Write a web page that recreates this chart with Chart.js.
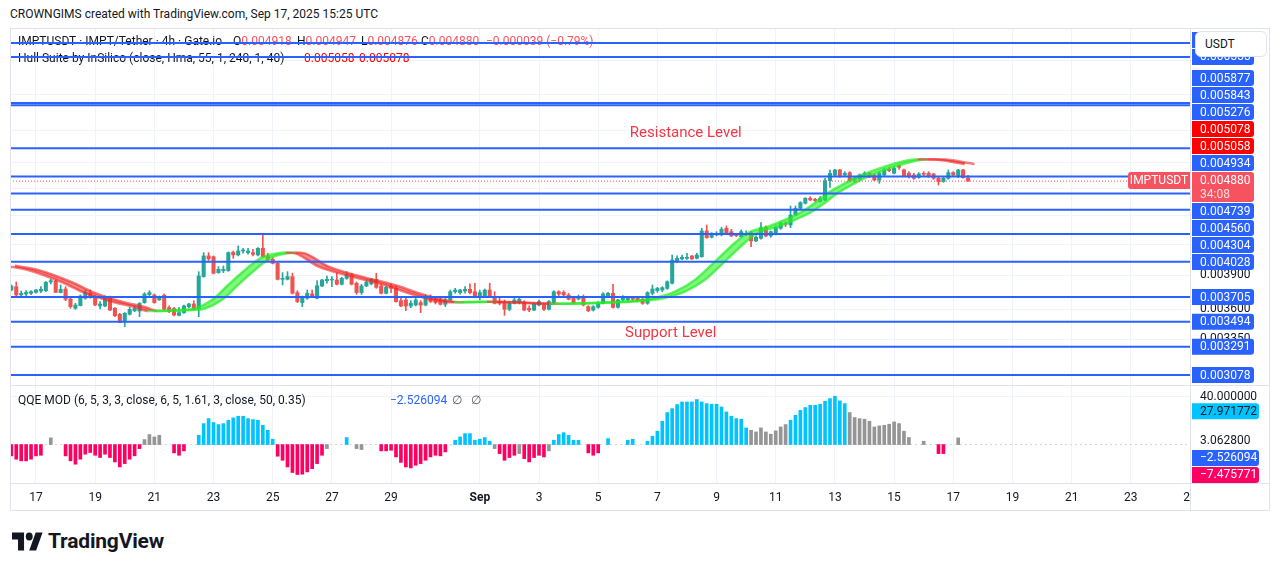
<!DOCTYPE html>
<html>
<head>
<meta charset="utf-8">
<script src="https://cdn.jsdelivr.net/npm/chart.js@4.4.1/dist/chart.umd.min.js"></script>
<style>
  body { margin: 0; width: 1281px; height: 571px; overflow: hidden; position: relative; background: #fff;
         font-family: Roboto, "Liberation Sans", Arial, sans-serif; color: #131722; }
  .abs { position: absolute; }
  canvas { position: absolute; z-index: 2; }
  .ln { position: absolute; background: #e0e3eb; z-index: 3; }
</style>
</head>
<body>
<div class="abs" style="left:10px;top:7px;font-size:12px;line-height:14px;">CROWNGIMS created with TradingView.com, Sep 17, 2025 15:25 UTC</div>

<canvas id="price" width="1260" height="357" style="left:10px;top:28px;width:1260px;height:357px"></canvas>
<canvas id="qqe" width="1260" height="126" style="left:10px;top:385px;width:1260px;height:126px"></canvas>

<div class="ln" style="left:10px;top:28px;width:1260px;height:1px"></div>
<div class="ln" style="left:10px;top:510px;width:1260px;height:1px"></div>
<div class="ln" style="left:10px;top:28px;width:1px;height:483px"></div>
<div class="ln" style="left:1269px;top:28px;width:1px;height:483px"></div>
<div class="ln" style="left:1190px;top:28px;width:1px;height:483px"></div>
<div class="ln" style="left:10px;top:385px;width:1260px;height:1px"></div>
<div class="ln" style="left:10px;top:483px;width:1260px;height:1px"></div>

<div class="abs" style="left:1195px;top:31px;width:72px;height:26px;border:1px solid #e0e3eb;border-radius:6px;background:#fff;z-index:4;font-size:12px;line-height:24px;padding-left:9px;box-sizing:border-box;">USDT</div>

<svg class="abs" style="left:12px;top:532px" width="31" height="19" viewBox="0 3.5 36 19" preserveAspectRatio="none">
  <path fill="#131722" d="M14 22H7V11H0V4h14v18zM28 22h-8l7.5-18h8L28 22z"/>
  <circle fill="#131722" cx="20" cy="8" r="4"/>
</svg>
<div class="abs" style="left:48px;top:528px;font-size:21px;font-weight:bold;line-height:26px;letter-spacing:-0.2px;">TradingView</div>

<script>
"use strict";
const FONT = 'Roboto, "Liberation Sans", Arial, sans-serif';
const UNIT = 1e-6;           // prices below are in millionths of USDT
const START = -5 / 6;        // first candle: Aug 16 04:00, days counted from Aug 17 00:00
const STEP = 1 / 6;          // 4h candles

// ---- IMPT/USDT 4h candles ----
const opens = [
  3767,3797,3723,3732,3738,3746,3758,3761,3840,3849, 3744,3776,3688,3607,3630,3694,3738,3708,3627,3627,
  3708,3607,3556,3494,3556,3586,3583,3656,3726,3723, 3679,3720,3613,3604,3547,3570,3621,3644,3598,3889,
  4085,4078,3926,3945,3945,4120,4095,4133,4117,4117, 4095,4160,4085,4052,4014,3864,3864,3889,3744,3656,
  3694,3732,3694,3803,3852,3858,3858,3819,3873,3904, 3828,3744,3803,3822,3864,3803,3738,3803,3782,3673,
  3679,3627,3635,3656,3635,3708,3685,3679,3641,3679, 3752,3744,3758,3773,3752,3708,3714,3767,3708,3665,
  3656,3598,3650,3656,3656,3607,3592,3635,3635,3598, 3656,3752,3746,3723,3694,3688,3708,3621,3592,3615,
  3650,3714,3738,3615,3679,3679,3700,3700,3685,3650, 3738,3761,3767,3782,3828,4030,4056,4062,4085,4062,
  4078,4335,4270,4294,4294,4362,4328,4301,4277,4294, 4318,4233,4260,4373,4284,4301,4362,4414,4397,4502,
  4574,4630,4685,4673,4648,4666,4885,4952,5011,4952, 4980,4893,4901,4952,4972,4952,4893,4952,5019,4972,
  5059,5011,4972,4952,4924,4972,4972,4964,4913,4874, 4913,4980,4932,5011,4918
];
const highs = [
  3813,3840,3758,3761,3761,3773,3797,3843,3867,3858, 3813,3797,3700,3650,3723,3767,3767,3723,3665,3714,
  3714,3613,3564,3570,3615,3627,3656,3744,3761,3732, 3714,3732,3627,3615,3615,3635,3650,3673,3935,4117,
  4117,4085,3983,3989,4124,4133,4183,4160,4160,4150, 4166,4294,4111,4069,4021,3926,3935,3920,3761,3714,
  3767,3767,3852,3864,3895,3889,3926,3883,3935,3920, 3840,3819,3858,3873,3920,3822,3803,3822,3803,3708,
  3694,3673,3694,3673,3723,3723,3700,3708,3694,3767, 3782,3773,3797,3822,3828,3767,3776,3828,3752,3694,
  3679,3665,3694,3702,3673,3627,3656,3679,3650,3673, 3761,3761,3761,3738,3708,3723,3723,3630,3630,3665,
  3744,3746,3819,3685,3717,3708,3708,3708,3694,3752, 3812,3791,3797,3850,4094,4085,4094,4111,4088,4111,
  4362,4397,4318,4328,4373,4387,4352,4311,4345,4335, 4328,4284,4421,4387,4335,4387,4432,4432,4600,4600,
  4648,4692,4703,4685,4703,4913,5011,5019,5019,4991, 4991,4932,4964,4991,4980,4964,4991,5031,5043,5051,
  5071,5023,4991,4972,4980,4991,4991,4972,4924,4924, 5011,4991,5019,5019,4947
];
const lows = [
  3761,3714,3717,3717,3726,3738,3744,3752,3822,3744, 3742,3673,3607,3598,3627,3685,3694,3630,3601,3621,
  3586,3536,3486,3452,3550,3578,3536,3650,3708,3650, 3676,3592,3570,3542,3542,3564,3613,3592,3536,3883,
  4040,3914,3920,3926,3938,4062,4085,4111,4101,4085, 4085,4075,4030,4008,3858,3813,3858,3732,3656,3621,
  3685,3700,3688,3797,3828,3797,3813,3813,3864,3813, 3729,3729,3797,3813,3782,3732,3732,3744,3659,3621,
  3586,3612,3627,3570,3627,3656,3644,3635,3621,3673, 3738,3729,3738,3732,3702,3679,3702,3702,3644,3635,
  3547,3586,3644,3644,3586,3578,3586,3627,3586,3592, 3644,3708,3717,3679,3650,3679,3627,3578,3583,3607,
  3644,3708,3607,3607,3673,3673,3673,3665,3641,3641, 3723,3746,3752,3773,3822,4021,4046,4052,4052,4056,
  4072,4260,4263,4284,4284,4304,4277,4277,4270,4284, 4176,4226,4250,4277,4270,4294,4352,4380,4369,4495,
  4563,4622,4659,4648,4641,4659,4808,4940,4924,4940, 4874,4862,4893,4932,4920,4885,4855,4940,4991,4964,
  5019,4932,4913,4901,4913,4940,4924,4901,4835,4866, 4901,4940,4920,4915,4876
];
const closes = [
  3803,3723,3738,3746,3752,3767,3773,3837,3852,3746, 3773,3685,3621,3635,3714,3744,3700,3635,3644,3700,
  3592,3544,3488,3564,3598,3607,3650,3732,3744,3656, 3708,3598,3578,3550,3570,3627,3644,3598,3895,4085,
  4056,3920,3957,3957,4117,4095,4133,4143,4133,4101, 4160,4078,4046,4014,3864,3873,3889,3738,3665,3708,
  3738,3708,3806,3858,3864,3864,3819,3873,3911,3819, 3744,3803,3837,3867,3791,3738,3791,3782,3665,3627,
  3627,3650,3679,3635,3708,3665,3656,3641,3679,3752, 3767,3767,3773,3744,3708,3744,3767,3708,3650,3650,
  3598,3650,3679,3685,3592,3592,3641,3665,3598,3665, 3752,3732,3723,3685,3656,3708,3635,3586,3621,3650,
  3732,3738,3615,3679,3694,3700,3685,3673,3650,3744, 3776,3782,3788,3843,4046,4062,4072,4072,4056,4094,
  4335,4267,4311,4311,4352,4311,4284,4287,4328,4311, 4233,4270,4369,4284,4328,4373,4414,4404,4502,4574,
  4637,4685,4666,4659,4685,4885,4972,5011,4932,4972, 4885,4913,4952,4972,4932,4893,4972,5011,5003,5031,
  5043,4940,4932,4913,4964,4960,4940,4913,4874,4913, 4980,4952,5011,4919,4880
];

// ---- Hull Suite (readings of the band along the chart) ----
const hullDays = [-0.88,-0.10,1.05,1.82,2.74,3.51,3.95,4.5,5.10,5.54, 6.11,6.66,7.23,7.80,8.34,8.6,8.92,9.70,10.84,11.96,
  13.07,13.99,14.3,15.0,15.4,16.5,17.5,18.3,19.05,20.41, 21.08,21.76,22.43,23.11,23.78,24.22,24.90,25.47,26.05,26.49,
  26.93,27.40,27.84,28.28,28.85,29.43,29.97,30.54,31.11,31.55];
const hullVals = [3990,3951,3837,3741,3664,3618,3584,3586,3592,3605, 3679,3812,3951,4070,4112,4118,4110,3985,3889,3812,
  3714,3662,3658,3662,3664,3655,3646,3648,3654,3673, 3697,3752,3858,4030,4213,4314,4379,4449,4537,4633,
  4744,4835,4916,4979,5051,5111,5140,5136,5111,5080];
const hullLast = [5058, 5078];

// ---- horizontal levels drawn on the chart ----
const levels = [6776, 6555, 5877, 5843, 5276, 4934, 4739, 4560, 4304, 4028, 3705, 3494, 3291, 3078];
const priceTicks = [3350, 3600, 3900, 4200, 4500, 4800, 5100, 5500, 6000, 6500];
const notes = [
  { text: 'Resistance Level', day: 21.96, price: 5471 },
  { text: 'Support Level', day: 21.45, price: 3401 }
];

// ---- QQE MOD histogram (one bar per candle), colour class: b blue, g grey, r red, - none ----
const qqeVals = [
  -9.5,-12.3,-13.7,-13.7,-12.3,-9.5,-9.0,null,5.6,null,
  null,-9.5,-13.7,-16.5,-12.3,-8.1,-6.7,-9.0,-10.9,-8.1,
  -10.9,-14.6,-18.8,-16.0,-12.3,-9.5,-3.4,4.2,8.4,6.4,
  7.8,null,null,-7.0,-9.0,-5.3,null,null,7.8,17.6,
  21.8,18.5,16.8,17.6,20.4,22.4,23.8,23.8,21.8,21.0,
  20.4,16.2,12.0,4.5,-9.8,-13.2,-18.8,-23.5,-25.2,-24.9,
  -23.0,-20.2,-16.0,-9.0,-3.4,null,null,null,5.9,null,
  -3.4,-4.2,null,null,null,-5.3,-5.3,-4.8,-10.4,-15.0,
  -18.8,-19.6,-17.4,-16.0,-13.2,-10.4,-9.0,-9.5,-6.2,null,
  3.6,6.4,9.2,9.2,3.6,4.5,5.9,2.8,-3.4,-7.6,
  -13.2,-10.9,-9.0,-7.6,-11.8,-14.6,-10.9,-9.0,-10.4,-5.3,
  3.6,8.4,10.0,7.8,3.6,3.6,null,-7.0,-9.0,-7.0,
  null,5.0,null,null,null,3.6,4.5,null,null,2.8,
  7.0,11.2,19.6,26.9,30.2,33.6,35.8,35.8,35.8,37.8,
  35.8,34.4,33.9,33.9,31.6,27.4,23.8,21.8,21.3,14.0,
  12.0,10.6,14.0,10.6,8.7,11.5,14.8,16.8,20.4,24.6,
  28.8,31.1,33.0,33.0,33.9,36.4,38.6,40.6,36.7,34.4,
  26.9,22.7,21.8,21.3,19.6,14.8,15.7,16.2,17.1,19.0,
  17.6,11.2,5.9,null,null,2.8,null,null,-7.6,-7.6,
  null,null,5.6,null,null
];
const qqeCls = "rrrrrrr-g-" + "-rrrrrrrrr" + "rrrrrrrggg" + "g--rrr--bb" + "bbbbbbbbbb" +
  "bbbbrrrrrr" + "rrrrg---b-" + "gg---rrrrr" + "rrrrrrrrr-" + "bbbbbbbbgr" +
  "rrrgrrrrrg" + "bbbbbb-rrr" + "-b---bb--b" + "bbbbbbbbbb" + "bbbbbbbbbb" +
  "ggggggggbb" + "bbbbbbbbbb" + "gggggggggg" + "ggg--g--rr" + "--g--";
const qqeTop = 40;
const qqeAxis = [27.971772, 3.0628, -2.526094, -7.475771];

// ---- time axis ----
const timeTicks = [0, 2, 4, 6, 8, 10, 12, 15, 17, 19, 21, 23, 25, 27, 29, 31, 33, 35, 37, 39];
const timeLabels = ['17','19','21','23','25','27','29','Sep','3','5','7','9','11','13','15','17','19','21','23','25'];

// ---- styles ----
const XMIN = -0.878, XMAX = 39.0;
const YMIN = 0.0030057, YMAX = 0.0070225;
const QMIN = -32.3, QMAX = 49.2;
const GRID = '#f0f3fa';
const INK = '#131722';
const UP = '#26a69a', DOWN = '#ef5350', CUR = '#f7525f', BLUE = '#2962ff';
const QCOL = { b: '#00c3ff', g: '#959595', r: '#ff0062' };

const last = closes.length - 1;
const fmt = v => (v < 0 ? '\u2212' : '') + Math.abs(v).toFixed(6);
const fmtP = v => fmt(v * UNIT);
const noPad = s => { s.paddingLeft = 0; s.paddingRight = 0; s.paddingTop = 0; s.paddingBottom = 0; };

// legend rows: [x, y, [[text, colour], ...]] in page pixels
const chg = closes[last] - closes[last - 1];
const pct = chg / closes[last - 1] * 100;
const priceLegend = [
  [18, 42, [['IMPTUSDT \u00b7 IMPT/Tether \u00b7 4h \u00b7 Gate.io', INK]]],
  [233, 42, [['O', INK], [fmtP(opens[last]), CUR]]],
  [297, 42, [['H', INK], [fmtP(highs[last]), CUR]]],
  [361, 42, [['L', INK], [fmtP(lows[last]), CUR]]],
  [421, 42, [['C', INK], [fmtP(closes[last]), CUR]]],
  [486, 42, [[fmtP(chg) + ' (' + (pct < 0 ? '\u2212' : '') + Math.abs(pct).toFixed(2) + '%)', CUR]]],
  [18, 59, [['Hull Suite by InSilico (close, Hma, 55, 1, 240, 1, 40)', INK]]],
  [304, 59, [[fmtP(hullLast[0]), '#ff0000']]],
  [359, 59, [[fmtP(hullLast[1]), '#ff0000']]]
];
const qqeLegend = [
  [18, 401, [['QQE MOD (6, 5, 3, 3, close, 6, 5, 1.61, 3, close, 50, 0.35)', INK]]],
  [390, 401, [[fmt(qqeAxis[2]), BLUE]]],
  [452, 401, [['\u2205', '#50535e']]],
  [471, 401, [['\u2205', '#50535e']]]
];
function drawLegend(chart, rows, top) {
  const ctx = chart.ctx;
  ctx.save();
  ctx.font = '12px ' + FONT;
  ctx.textBaseline = 'middle';
  ctx.textAlign = 'left';
  rows.forEach(([x, y, parts]) => {
    let px = x - 10;
    parts.forEach(([t, c]) => { ctx.fillStyle = c; ctx.fillText(t, px, y - top); px += ctx.measureText(t).width; });
  });
  ctx.restore();
}

// datasets
const dayOf = i => START + i * STEP;
const bodies = opens.map((o, i) => ({ x: dayOf(i), y: [o * UNIT, closes[i] * UNIT] }));
const wicks = opens.map((o, i) => ({ x: dayOf(i), y: [lows[i] * UNIT, highs[i] * UNIT] }));
const candleCol = opens.map((o, i) => closes[i] >= o ? UP : DOWN);
const hullM = hullDays.map((d, i) => ({ x: d - STEP, y: hullVals[i] * UNIT }));
const hullS = hullDays.map((d, i) => ({ x: d + STEP, y: hullVals[i] * UNIT }));
const hullSeg = {
  borderColor: c => c.p1.parsed.y >= c.p0.parsed.y ? 'rgba(30,235,30,0.65)' : 'rgba(240,40,40,0.6)',
  backgroundColor: c => c.p1.parsed.y >= c.p0.parsed.y ? 'rgba(40,245,40,0.6)' : 'rgba(240,40,40,0.55)'
};

const levelSets = levels.map(v => ({
  type: 'line', data: [{ x: XMIN, y: v * UNIT }, { x: XMAX, y: v * UNIT }],
  borderColor: BLUE, borderWidth: 2, pointRadius: 0, order: 0
}));

function box(ctx, x, y, w, h, color) {
  ctx.fillStyle = color;
  ctx.beginPath();
  ctx.roundRect(x, y, w, h, [0, 3, 3, 0]);
  ctx.fill();
}

const priceLabels = {
  id: 'priceLabels',
  beforeDatasetsDraw(chart) { drawLegend(chart, priceLegend, 28); },
  afterDraw(chart) {
    const { ctx, chartArea: a, scales: { x, y } } = chart;
    ctx.save();
    ctx.textBaseline = 'middle';
    ctx.font = '15px ' + FONT;
    ctx.fillStyle = '#f23645';
    ctx.textAlign = 'center';
    notes.forEach(n => ctx.fillText(n.text, x.getPixelForValue(n.day), y.getPixelForValue(n.price * UNIT)));

    const cur = closes[last];
    const cy = y.getPixelForValue(cur * UNIT);
    const items = levels.map(v => ({ v, bg: BLUE })).concat(hullLast.map(v => ({ v, bg: '#ff0000' })));
    const above = items.filter(o => o.v > cur).sort((p, q) => p.v - q.v);
    const below = items.filter(o => o.v < cur).sort((p, q) => q.v - p.v);
    let edge = cy - 9;
    above.forEach(o => { o.y = Math.min(y.getPixelForValue(o.v * UNIT), edge - 9); edge = o.y - 8; });
    edge = cy + 21;
    below.forEach(o => { o.y = Math.max(y.getPixelForValue(o.v * UNIT), edge + 9); edge = o.y + 8; });

    ctx.font = '12px ' + FONT;
    ctx.textAlign = 'left';
    items.forEach(o => {
      box(ctx, a.right + 2, o.y - 8, 62, 16, o.bg);
      ctx.fillStyle = '#fff';
      ctx.fillText(fmtP(o.v), a.right + 10, o.y + 0.5);
    });
    box(ctx, a.right + 2, cy - 9, 62, 30, CUR);
    ctx.fillStyle = '#fff';
    ctx.fillText(fmtP(cur), a.right + 10, cy);
    ctx.fillStyle = 'rgba(255,255,255,0.8)';
    ctx.fillText('34:08', a.right + 10, cy + 14);
    ctx.fillStyle = CUR;
    ctx.beginPath();
    ctx.roundRect(a.right - 62, cy - 9, 62, 17, [3, 0, 0, 3]);
    ctx.fill();
    ctx.fillStyle = '#fff';
    ctx.textAlign = 'center';
    ctx.fillText('IMPTUSDT', a.right - 31, cy);
    ctx.restore();
  }
};

new Chart(document.getElementById('price'), {
  type: 'bar',
  data: {
    datasets: levelSets.concat([
      { type: 'line', data: [{ x: XMIN, y: closes[last] * UNIT }, { x: XMAX, y: closes[last] * UNIT }],
        borderColor: CUR, borderWidth: 1, borderDash: [1, 2], pointRadius: 0, order: 1 },
      { type: 'line', data: hullM, borderWidth: 2.5, pointRadius: 0, cubicInterpolationMode: 'monotone',
        segment: hullSeg, fill: false, order: 2 },
      { type: 'line', data: hullS, borderWidth: 2.5, pointRadius: 0, cubicInterpolationMode: 'monotone',
        segment: hullSeg, fill: '-1', order: 2 },
      { data: bodies, backgroundColor: candleCol, barThickness: 3.4, grouped: false, order: 3 },
      { data: wicks, backgroundColor: candleCol, barThickness: 1, grouped: false, order: 4 }
    ])
  },
  options: {
    responsive: false, animation: false, events: [],
    layout: { padding: 0 },
    plugins: { legend: { display: false }, tooltip: { enabled: false } },
    scales: {
      x: {
        type: 'linear', min: XMIN, max: XMAX, offset: false,
        afterBuildTicks: s => { s.ticks = timeTicks.map(v => ({ value: v })); },
        ticks: { display: false },
        grid: { color: GRID, drawTicks: false, offset: false },
        border: { display: false },
        afterFit: s => { s.height = 0; noPad(s); }
      },
      y: {
        type: 'logarithmic', position: 'right', min: YMIN, max: YMAX,
        afterBuildTicks: s => { s.ticks = priceTicks.map(v => ({ value: v * UNIT })); },
        ticks: { callback: v => Number(v).toFixed(6), autoSkip: false, padding: 10, color: INK,
                 font: { size: 12, family: FONT } },
        grid: { color: GRID, drawTicks: false },
        border: { display: false },
        afterFit: s => { s.width = 80; noPad(s); }
      }
    }
  },
  plugins: [priceLabels]
});

const qqeLabels = {
  id: 'qqeLabels',
  beforeDatasetsDraw(chart) { drawLegend(chart, qqeLegend, 385); },
  afterDraw(chart) {
    const { ctx, chartArea: a, scales: { y } } = chart;
    ctx.save();
    ctx.fillStyle = '#fff';
    ctx.fillRect(a.right + 1, a.bottom + 1, chart.width - a.right, chart.height - a.bottom);
    ctx.font = '12px ' + FONT;
    ctx.textBaseline = 'middle';
    ctx.textAlign = 'left';
    ctx.fillStyle = INK;
    ctx.fillText(qqeTop.toFixed(6), a.right + 10, y.getPixelForValue(qqeTop));
    const styles = [
      { bg: '#00c3ff', fg: INK }, { bg: null, fg: INK },
      { bg: BLUE, fg: '#fff' }, { bg: '#ff0062', fg: '#fff' }
    ];
    let prev = -1e9;
    qqeAxis.forEach((v, i) => {
      const cy = Math.max(y.getPixelForValue(v), prev + 17);
      prev = cy;
      if (styles[i].bg) box(ctx, a.right + 2, cy - 8, 67, 16, styles[i].bg);
      ctx.fillStyle = styles[i].fg;
      ctx.fillText(fmt(v), a.right + 10, cy + 0.5);
    });
    ctx.restore();
  }
};

new Chart(document.getElementById('qqe'), {
  type: 'bar',
  data: {
    datasets: [
      { data: qqeVals.map((v, i) => ({ x: dayOf(i), y: v })),
        backgroundColor: qqeVals.map((v, i) => QCOL[qqeCls[i]] || 'rgba(0,0,0,0)'),
        barThickness: 3, grouped: false, order: 0 },
      { type: 'line', data: [{ x: XMIN, y: 0 }, { x: XMAX, y: 0 }], borderColor: '#d1d4dc',
        borderWidth: 1, borderDash: [2, 3], pointRadius: 0, order: 1 }
    ]
  },
  options: {
    responsive: false, animation: false, events: [],
    layout: { padding: { top: 1 } },
    plugins: { legend: { display: false }, tooltip: { enabled: false } },
    scales: {
      x: {
        type: 'linear', min: XMIN, max: XMAX, offset: false,
        afterBuildTicks: s => { s.ticks = timeTicks.map(v => ({ value: v })); },
        ticks: { autoSkip: false, maxRotation: 0, padding: 8, color: INK,
                 callback: (v, i) => timeLabels[i],
                 font: c => ({ size: 12, family: FONT, weight: timeLabels[c.index] === 'Sep' ? 'bold' : 'normal' }) },
        grid: { color: GRID, drawTicks: false, offset: false },
        border: { display: false },
        afterFit: s => { s.height = 28; noPad(s); }
      },
      y: {
        type: 'linear', position: 'right', min: QMIN, max: QMAX,
        afterBuildTicks: s => { s.ticks = [{ value: qqeTop }]; },
        ticks: { display: false },
        grid: { color: GRID, drawTicks: false },
        border: { display: false },
        afterFit: s => { s.width = 80; noPad(s); }
      }
    }
  },
  plugins: [qqeLabels]
});
</script>
</body>
</html>
